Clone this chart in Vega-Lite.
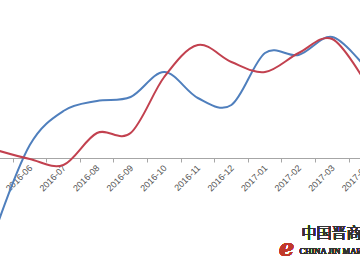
{
  "$schema": "https://vega.github.io/schema/vega-lite/v6.json",
  "width": 360,
  "height": 270,
  "autosize": "none",
  "padding": 0,
  "background": "white",
  "config": {"view": {"stroke": null}},
  "data": {"values": [
    {"month": "2016-05", "series": "A", "value": 42},
    {"month": "2016-06", "series": "A", "value": 125},
    {"month": "2016-07", "series": "A", "value": 159},
    {"month": "2016-08", "series": "A", "value": 169},
    {"month": "2016-09", "series": "A", "value": 173},
    {"month": "2016-10", "series": "A", "value": 198},
    {"month": "2016-11", "series": "A", "value": 172},
    {"month": "2016-12", "series": "A", "value": 165},
    {"month": "2017-01", "series": "A", "value": 217},
    {"month": "2017-02", "series": "A", "value": 215},
    {"month": "2017-03", "series": "A", "value": 233},
    {"month": "2017-04", "series": "A", "value": 202},
    {"month": "2016-05", "series": "B", "value": 120},
    {"month": "2016-06", "series": "B", "value": 111},
    {"month": "2016-07", "series": "B", "value": 105},
    {"month": "2016-08", "series": "B", "value": 137},
    {"month": "2016-09", "series": "B", "value": 137},
    {"month": "2016-10", "series": "B", "value": 193},
    {"month": "2016-11", "series": "B", "value": 225},
    {"month": "2016-12", "series": "B", "value": 208},
    {"month": "2017-01", "series": "B", "value": 198},
    {"month": "2017-02", "series": "B", "value": 217},
    {"month": "2017-03", "series": "B", "value": 231},
    {"month": "2017-04", "series": "B", "value": 187}
  ]},
  "layer": [
    {
      "mark": {"type": "line", "interpolate": "cardinal", "strokeWidth": 2},
      "encoding": {
        "x": {
          "field": "month", "type": "ordinal",
          "scale": {"type": "band", "domain": ["2016-05","2016-06","2016-07","2016-08","2016-09","2016-10","2016-11","2016-12","2017-01","2017-02","2017-03","2017-04"], "range": [-20.6, 382.6], "paddingInner": 0, "paddingOuter": 0},
          "axis": {"orient": "bottom", "offset": -112, "bandPosition": 0, "title": null, "labelAngle": -45, "labelAlign": "right", "labelBaseline": "middle", "labelOffset": 1, "labelPadding": 4, "labelFontSize": 9, "labelFont": "Liberation Sans", "labelColor": "#555555", "labelOverlap": false, "domainColor": "#a6a6a6", "tickColor": "#a6a6a6", "tickSize": 4, "grid": false}
        },
        "y": {"field": "value", "type": "quantitative", "scale": {"domain": [0, 270], "nice": false, "zero": false}, "axis": null},
        "color": {"field": "series", "type": "nominal", "scale": {"domain": ["A", "B"], "range": ["#4f7fbd", "#c2414f"]}, "legend": null}
      }
    },
    {
      "mark": {"type": "text", "text": "e", "font": "DejaVu Serif", "fontStyle": "italic", "fontWeight": "bold", "fontSize": 24, "color": "#c0392b", "align": "center", "baseline": "alphabetic", "dx": -12},
      "encoding": {"x": {"datum": "2017-02", "type": "ordinal"}, "y": {"datum": 14, "type": "quantitative"}}
    },
    {
      "mark": {"type": "text", "text": "中国晋商网", "font": "Noto Sans CJK SC", "fontSize": 15, "color": "#333333", "align": "left", "baseline": "bottom", "dx": 3},
      "encoding": {"x": {"datum": "2017-02", "type": "ordinal"}, "y": {"datum": 29, "type": "quantitative"}}
    },
    {
      "mark": {"type": "text", "text": "CHINA JIN MARKET", "font": "Liberation Serif", "fontSize": 8.5, "color": "#333333", "align": "left", "baseline": "alphabetic", "dx": 1},
      "encoding": {"x": {"datum": "2017-02", "type": "ordinal"}, "y": {"datum": 16, "type": "quantitative"}}
    }
  ]
}
